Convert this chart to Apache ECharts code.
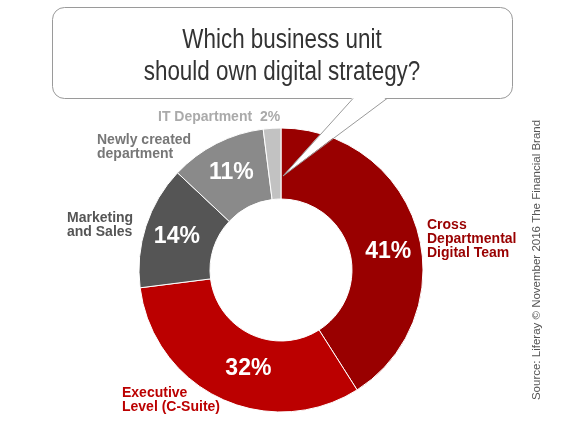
<!DOCTYPE html>
<html>
<head>
<meta charset="utf-8">
<script src="https://cdn.jsdelivr.net/npm/echarts@6/dist/echarts.min.js"></script>
<style>
  html, body { margin: 0; padding: 0; background: #fff; }
  #chart { width: 565px; height: 427px; }
</style>
</head>
<body>
<div id="chart"></div>
<script>
// data
const units = ['Cross Departmental Digital Team', 'Executive Level (C-Suite)', 'Marketing and Sales', 'Newly created department', 'IT Department'];
const shares = [41, 32, 14, 11, 2];
const unitColors = ['#990000', '#bb0000', '#555555', '#8a8a8a', '#c2c2c2'];
const labelLines = [
  ['Cross', 'Departmental', 'Digital Team'],
  ['Executive', 'Level (C-Suite)'],
  ['Marketing', 'and Sales'],
  ['Newly created', 'department'],
  ['IT Department']
];
const titleLines = ['Which business unit', 'should own digital strategy?'];
const sourceText = 'Source: Liferay \u00a9 November 2016 The Financial Brand';

const chartDom = document.getElementById('chart');
const myChart = echarts.init(chartDom);

const sans = '"Liberation Sans", Arial, sans-serif';

// where the category names sit round the ring
const namePos = [
  { x: 427, y: 239, color: '#990000' },
  { x: 122, y: 400, color: '#bb0000' },
  { x: 67, y: 225, color: '#555555' },
  { x: 97, y: 147, color: '#777777' },
  { x: 158, y: 117, color: '#aaaaaa' }
];
// nudges for the big percentages
const pctFormat = ['\n{c}%', '{c}%', '{c}%', '{c}%', '{c}%'];
const pctPadding = [[0, 0, 0, 4], [0, 0, 0, 28], [0, 0, 0, 0], [0, 0, 0, 0], [0, 0, 0, 0]];

const nameTexts = units.map((u, i) => {
  let txt = labelLines[i].join('\n');
  if (i === units.length - 1) txt = txt + '  ' + shares[i] + '%';
  return {
    type: 'text',
    x: namePos[i].x,
    y: namePos[i].y,
    z: 20,
    style: {
      text: txt,
      fill: namePos[i].color,
      font: 'bold 14px ' + sans,
      lineHeight: 14,
      textAlign: 'left',
      textVerticalAlign: 'middle'
    }
  };
});

const option = {
  animation: false,
  backgroundColor: '#fff',
  series: [
    {
      type: 'pie',
      center: [281, 270],
      radius: [71, 142],
      startAngle: 90,
      clockwise: true,
      silent: true,
      itemStyle: { borderColor: '#fff', borderWidth: 1 },
      label: {
        position: 'inside',
        color: '#fff',
        fontFamily: sans,
        fontWeight: 'bold',
        fontSize: 23,
        lineHeight: 24
      },
      labelLine: { show: false },
      data: units.map((u, i) => ({
        name: u,
        value: shares[i],
        itemStyle: { color: unitColors[i] },
        label: { show: i < units.length - 1, formatter: pctFormat[i], padding: pctPadding[i] }
      }))
    }
  ],
  graphic: [
    // speech bubble
    {
      type: 'rect',
      z: 10,
      shape: { x: 52.5, y: 7.5, width: 460, height: 91, r: 12 },
      style: { fill: '#fff', stroke: '#9a9a9a', lineWidth: 1 }
    },
    {
      type: 'polygon',
      z: 11,
      shape: { points: [[353, 97], [387, 97], [283, 176]] },
      style: { fill: '#fff' }
    },
    {
      type: 'polyline',
      z: 12,
      shape: { points: [[353, 98.5], [283, 176], [387, 98.5]] },
      style: { stroke: '#9a9a9a', lineWidth: 1, fill: null }
    },
    ...titleLines.map((t, i) => ({
      type: 'text',
      x: 282,
      y: 41 + i * 32,
      z: 13,
      scaleX: 0.83,
      style: {
        text: t,
        fill: '#333',
        font: '27px ' + sans,
        textAlign: 'center',
        textVerticalAlign: 'middle'
      }
    })),
    ...nameTexts,
    {
      type: 'text',
      x: 537,
      y: 260,
      rotation: Math.PI / 2,
      z: 20,
      style: {
        text: sourceText,
        fill: '#555',
        font: '11.5px ' + sans,
        textAlign: 'center',
        textVerticalAlign: 'middle'
      }
    }
  ]
};

myChart.setOption(option);
</script>
</body>
</html>
